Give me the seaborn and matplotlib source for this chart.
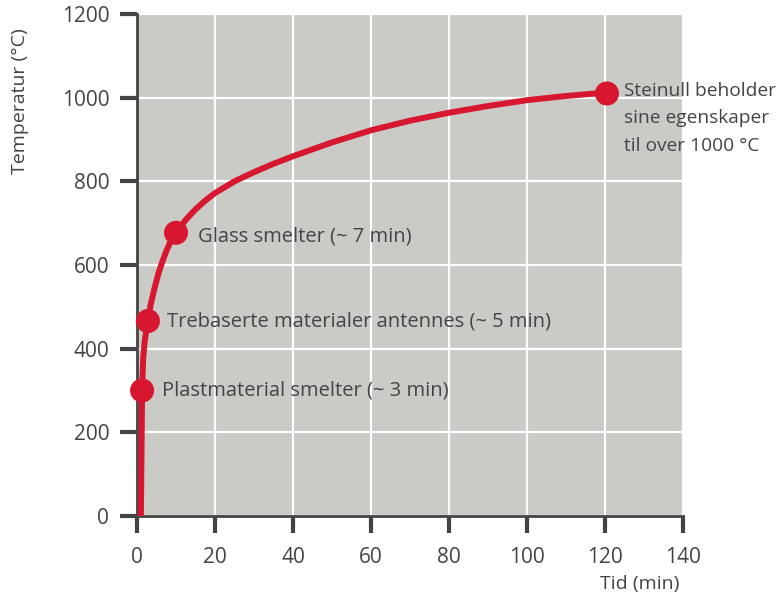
import matplotlib
matplotlib.use("Agg")
import matplotlib.pyplot as plt
import seaborn as sns
import pandas as pd

# curve (time in minutes, temperature in degC)
tid = [1.0, 1.1, 1.2, 1.3, 1.6, 2.0, 2.8, 3.5, 4.5, 5.5, 6.5, 7.5, 8.5, 10,
       12.5, 15, 17.5, 20, 25, 30, 35, 40, 50, 60, 70, 80, 90, 100, 110, 120]
temperatur = [0, 100, 200, 300, 380, 420, 466, 505, 545, 580, 608, 633, 654, 677,
              708, 733, 754, 772, 800, 822, 842, 860, 893, 922, 945, 964, 980, 994, 1004, 1012]

# highlighted events
punkt_tid = [1.3, 2.8, 10, 120.5]
punkt_temp = [300, 466, 677, 1010]
punkt_tekst = [
    "Plastmaterial smelter (~ 3 min)",
    "Trebaserte materialer antennes (~ 5 min)",
    "Glass smelter (~ 7 min)",
    "Steinull beholder\nsine egenskaper\ntil over 1000 °C",
]

x_ticks = [0, 20, 40, 60, 80, 100, 120, 140]
y_ticks = [0, 200, 400, 600, 800, 1000, 1200]

RED = "#d7172f"
GREY_BG = "#cacac6"
TEXT = "#444444"

sns.set_theme(style="white")
plt.rcParams['font.family'] = ['Open Sans', 'DejaVu Sans']

curve = pd.DataFrame({"Tid": tid, "Temperatur": temperatur})
points = pd.DataFrame({"Tid": punkt_tid, "Temperatur": punkt_temp})

fig = plt.figure(figsize=(7.82, 6.06), dpi=100)
ax = fig.add_axes([0.1752, 0.1485, 0.6982, 0.8284])
ax.set_facecolor(GREY_BG)

sns.lineplot(data=curve, x="Tid", y="Temperatur", color=RED, linewidth=4.3,
             ax=ax, zorder=3)
sns.scatterplot(data=points, x="Tid", y="Temperatur", color=RED, s=300,
                edgecolor="none", ax=ax, zorder=4, clip_on=False)

offsets = [(14, 0), (14, 0), (16, -3), (12, 8)]
sizes = [14.5, 14.5, 14.5, 13.8]
for xv, yv, txt, off, fs in zip(punkt_tid, punkt_temp, punkt_tekst, offsets, sizes):
    ax.annotate(txt, (xv, yv), xytext=off, textcoords="offset points",
                ha="left", va="center" if "\n" not in txt else "top",
                fontsize=fs, color=TEXT, linespacing=1.65,
                annotation_clip=False)

ax.set_xlim(0, 140)
ax.set_ylim(0, 1200)
ax.set_xticks(x_ticks)
ax.set_yticks(y_ticks)
ax.grid(True, color="white", linewidth=1.6)
ax.set_axisbelow(True)

for s in ["top", "right"]:
    ax.spines[s].set_visible(False)
for s in ["left", "bottom"]:
    ax.spines[s].set_color(TEXT)
    ax.spines[s].set_linewidth(2)

ax.tick_params(axis="both", direction="out", length=12, width=3,
               color=TEXT, labelcolor=TEXT, labelsize=15,
               bottom=True, left=True)
ax.tick_params(axis="x", pad=10)
ax.tick_params(axis="y", pad=8)

ax.set_xlabel("")
ax.set_ylabel("")
fig.text(0.025, 0.833, "Temperatur (°C)", rotation=90, ha="center",
         va="center", fontsize=14, color=TEXT)
fig.text(0.818, 0.022, "Tid (min)", ha="center", va="bottom",
         fontsize=14, color=TEXT)

fig.savefig("out.png", dpi=100)
